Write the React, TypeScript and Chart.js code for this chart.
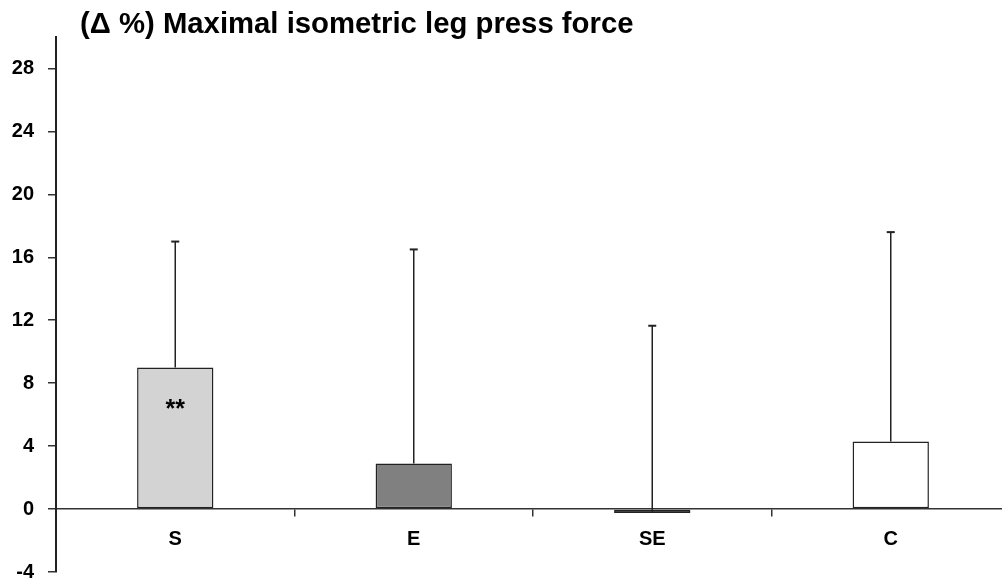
import React, { useEffect, useRef } from "react";
import { Chart, registerables } from "chart.js";

Chart.register(...registerables);

const TITLE = "(\u0394 %) Maximal isometric leg press force";
const categories = ["S", "E", "SE", "C"];
const meanValues = [9.0, 2.9, -0.25, 4.3];
const errorTops = [17.0, 16.5, 11.65, 17.6];
const barColors = ["#d3d3d3", "#808080", "#000000", "#ffffff"];
const significance = ["**", "", "", ""];
const significanceValues = [6.75, 0, 0, 0];
const yTicks = [-4, 0, 4, 8, 12, 16, 20, 24, 28];
const Y_MIN = -4;
const Y_MAX = 30;

const FONT = "'Liberation Sans', Arial, sans-serif";

const overlayPlugin = {
  id: "overlay",
  afterDatasetsDraw(chart: any) {
    const ctx = chart.ctx;
    const meta = chart.getDatasetMeta(0);
    const yScale = chart.scales.y;
    ctx.save();
    meta.data.forEach((el: any, i: number) => {
      const x = el.x;
      const yBar = el.y;
      const yTop = yScale.getPixelForValue(errorTops[i]);
      ctx.strokeStyle = "#222";
      ctx.lineWidth = 1.5;
      ctx.beginPath();
      ctx.moveTo(x, yBar);
      ctx.lineTo(x, yTop);
      ctx.stroke();
      ctx.lineWidth = 2;
      ctx.beginPath();
      ctx.moveTo(x - 4, yTop);
      ctx.lineTo(x + 4, yTop);
      ctx.stroke();
      if (significance[i]) {
        ctx.fillStyle = "#000";
        ctx.font = `bold 25px ${FONT}`;
        ctx.textAlign = "center";
        ctx.textBaseline = "alphabetic";
        ctx.fillText(significance[i], x, yScale.getPixelForValue(significanceValues[i]) + 14);
      }
    });
    ctx.restore();
  },
  afterDraw(chart: any) {
    const ctx = chart.ctx;
    ctx.save();
    ctx.fillStyle = "#000";
    ctx.font = `bold 29.3px ${FONT}`;
    ctx.textAlign = "left";
    ctx.textBaseline = "alphabetic";
    ctx.fillText(TITLE, chart.chartArea.left + 24, 33);
    ctx.restore();
  },
};

export default function App() {
  const ref = useRef<HTMLCanvasElement | null>(null);
  useEffect(() => {
    if (!ref.current) return;
    const chart = new Chart(ref.current, {
      type: "bar",
      data: {
        labels: categories,
        datasets: [
          {
            data: meanValues,
            backgroundColor: barColors,
            borderColor: "#222",
            borderWidth: 1.5,
            borderSkipped: false,
            barPercentage: 0.32,
            categoryPercentage: 1,
          },
        ],
      },
      options: {
        responsive: false,
        animation: false,
        devicePixelRatio: 1,
        layout: { padding: { left: 0, right: 0, top: 37, bottom: 11 } },
        plugins: {
          legend: { display: false },
          title: { display: false },
          tooltip: { enabled: false },
        },
        scales: {
          x: {
            type: "category",
            position: { y: 0 } as any,
            offset: true,
            grid: {
              offset: true,
              drawOnChartArea: false,
              drawTicks: true,
              tickLength: 7,
              color: "#333",
              lineWidth: 1.5,
            },
            border: { display: true, color: "#333", width: 1.5 },
            ticks: {
              color: "#000",
              font: { family: FONT, size: 20, weight: "bold" },
              padding: 11,
            },
          },
          y: {
            min: Y_MIN,
            max: Y_MAX,
            afterBuildTicks(scale: any) {
              scale.ticks = yTicks.map((v) => ({ value: v }));
            },
            afterFit(scale: any) {
              scale.width = 56;
              scale.paddingTop = 0;
              scale.paddingBottom = 0;
            },
            grid: {
              drawOnChartArea: false,
              drawTicks: true,
              tickLength: 8,
              color: "#333",
              lineWidth: 1.5,
            },
            border: { display: true, color: "#222", width: 2 },
            ticks: {
              color: "#000",
              font: { family: FONT, size: 20, weight: "bold" },
              padding: 14,
            },
          },
        },
      },
      plugins: [overlayPlugin],
    });
    return () => chart.destroy();
  }, []);
  return (
    <div
      style={{
        position: "fixed",
        left: 0,
        top: 0,
        width: 1002,
        height: 583,
        overflow: "hidden",
        background: "#fff",
      }}
    >
      <canvas ref={ref} width={1010} height={583} style={{ display: "block" }} />
    </div>
  );
}
